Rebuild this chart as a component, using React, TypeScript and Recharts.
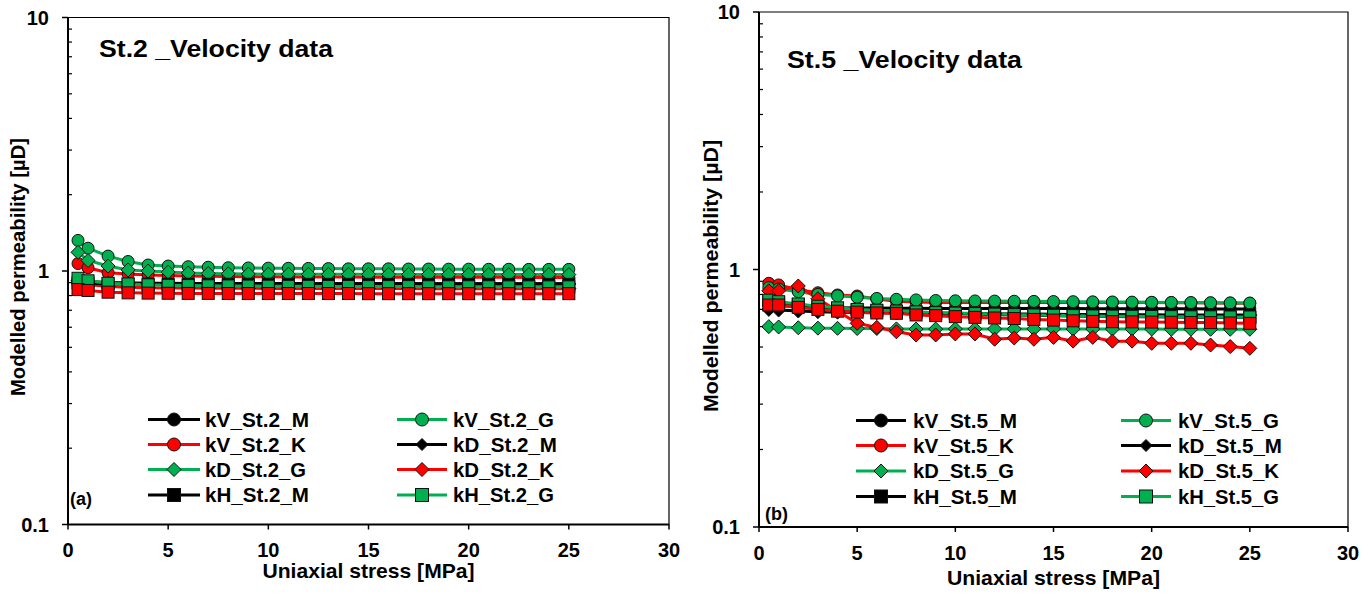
import React from 'react';
import { LineChart, Line, XAxis, YAxis, ReferenceArea, Legend } from 'recharts';

// ---------- data ----------
const stressMPa = [0.5, 1, 2, 3, 4, 5, 6, 7, 8, 9, 10, 11, 12, 13, 14, 15, 16, 17, 18, 19, 20, 21, 22, 23, 24, 25];
const xTicks = [0, 5, 10, 15, 20, 25, 30];
const yMajorTicks = [0.1, 1, 10];
const yTicks = [0.1, 0.2, 0.3, 0.4, 0.5, 0.6, 0.7, 0.8, 0.9, 1, 2, 3, 4, 5, 6, 7, 8, 9, 10];

// St.2
const kV_St2_M = [0.925, 0.91, 0.9, 0.897, 0.895, 0.894, 0.893, 0.893, 0.892, 0.892, 0.892, 0.892, 0.891, 0.891, 0.891, 0.891, 0.891, 0.891, 0.891, 0.89, 0.89, 0.89, 0.89, 0.89, 0.89, 0.89];
const kV_St2_G = [1.32, 1.23, 1.145, 1.09, 1.056, 1.046, 1.04, 1.035, 1.03, 1.028, 1.026, 1.025, 1.024, 1.022, 1.02, 1.02, 1.02, 1.018, 1.018, 1.017, 1.017, 1.016, 1.016, 1.015, 1.015, 1.015];
const kV_St2_K = [1.07, 1.03, 0.985, 0.973, 0.965, 0.96, 0.956, 0.953, 0.951, 0.95, 0.949, 0.948, 0.947, 0.946, 0.946, 0.945, 0.945, 0.945, 0.944, 0.944, 0.944, 0.944, 0.944, 0.943, 0.943, 0.943];
const kD_St2_M = [0.915, 0.905, 0.897, 0.894, 0.893, 0.892, 0.891, 0.891, 0.891, 0.89, 0.89, 0.89, 0.89, 0.89, 0.89, 0.89, 0.89, 0.89, 0.889, 0.889, 0.889, 0.889, 0.889, 0.889, 0.889, 0.889];
const kD_St2_G = [1.185, 1.1, 1.046, 1.01, 1.0, 0.99, 0.982, 0.978, 0.975, 0.973, 0.972, 0.971, 0.97, 0.97, 0.97, 0.97, 0.97, 0.969, 0.969, 0.969, 0.969, 0.969, 0.968, 0.968, 0.968, 0.968];
const kD_St2_K = [0.9, 0.885, 0.868, 0.862, 0.859, 0.857, 0.856, 0.855, 0.855, 0.854, 0.854, 0.854, 0.853, 0.853, 0.853, 0.853, 0.853, 0.853, 0.852, 0.852, 0.852, 0.852, 0.852, 0.852, 0.852, 0.852];
const kH_St2_M = [0.9, 0.895, 0.89, 0.888, 0.888, 0.887, 0.887, 0.887, 0.887, 0.887, 0.887, 0.886, 0.886, 0.886, 0.886, 0.886, 0.886, 0.886, 0.886, 0.886, 0.886, 0.886, 0.886, 0.886, 0.886, 0.886];
const kH_St2_G = [0.936, 0.915, 0.895, 0.889, 0.882, 0.878, 0.876, 0.874, 0.873, 0.872, 0.871, 0.87, 0.87, 0.869, 0.869, 0.868, 0.868, 0.868, 0.867, 0.867, 0.867, 0.867, 0.866, 0.866, 0.866, 0.866];
const kH_St2_K = [0.845, 0.838, 0.825, 0.82, 0.818, 0.817, 0.816, 0.816, 0.815, 0.815, 0.815, 0.815, 0.815, 0.815, 0.815, 0.814, 0.814, 0.814, 0.814, 0.814, 0.814, 0.814, 0.814, 0.814, 0.814, 0.814];

// St.5
const kV_St5_M = [0.73, 0.724, 0.717, 0.713, 0.711, 0.709, 0.708, 0.707, 0.707, 0.706, 0.706, 0.706, 0.705, 0.705, 0.705, 0.705, 0.705, 0.704, 0.704, 0.704, 0.704, 0.704, 0.704, 0.703, 0.703, 0.703];
const kV_St5_G = [0.85, 0.84, 0.82, 0.8, 0.79, 0.78, 0.772, 0.766, 0.762, 0.758, 0.756, 0.755, 0.754, 0.753, 0.752, 0.751, 0.75, 0.749, 0.748, 0.747, 0.746, 0.745, 0.744, 0.743, 0.742, 0.741];
const kV_St5_K = [0.884, 0.871, 0.835, 0.812, 0.796, 0.789, 0.768, 0.753, 0.748, 0.745, 0.745, 0.745, 0.745, 0.745, 0.745, 0.745, 0.745, 0.745, 0.745, 0.744, 0.744, 0.743, 0.742, 0.741, 0.74, 0.739];
const kD_St5_M = [0.7, 0.696, 0.69, 0.686, 0.683, 0.681, 0.679, 0.678, 0.677, 0.676, 0.675, 0.674, 0.673, 0.672, 0.671, 0.67, 0.669, 0.668, 0.668, 0.667, 0.667, 0.666, 0.666, 0.665, 0.665, 0.665];
const kD_St5_G = [0.6, 0.598, 0.594, 0.592, 0.591, 0.59, 0.59, 0.588, 0.587, 0.587, 0.588, 0.588, 0.588, 0.588, 0.588, 0.588, 0.587, 0.587, 0.587, 0.587, 0.587, 0.586, 0.586, 0.586, 0.586, 0.586];
const kD_St5_K = [0.827, 0.827, 0.863, 0.77, 0.69, 0.618, 0.596, 0.573, 0.557, 0.557, 0.562, 0.562, 0.536, 0.542, 0.536, 0.545, 0.527, 0.545, 0.527, 0.527, 0.517, 0.517, 0.517, 0.509, 0.502, 0.494];
const kH_St5_M = [0.755, 0.745, 0.73, 0.716, 0.706, 0.697, 0.692, 0.687, 0.682, 0.678, 0.675, 0.672, 0.669, 0.666, 0.664, 0.662, 0.66, 0.658, 0.657, 0.656, 0.655, 0.654, 0.653, 0.653, 0.652, 0.652];
const kH_St5_G = [0.76, 0.75, 0.735, 0.72, 0.71, 0.7, 0.695, 0.69, 0.685, 0.68, 0.677, 0.674, 0.671, 0.668, 0.666, 0.664, 0.662, 0.66, 0.659, 0.658, 0.657, 0.656, 0.655, 0.655, 0.654, 0.654];
const kH_St5_K = [0.728, 0.728, 0.713, 0.7, 0.689, 0.683, 0.678, 0.676, 0.666, 0.662, 0.656, 0.652, 0.648, 0.645, 0.64, 0.636, 0.632, 0.629, 0.627, 0.626, 0.625, 0.624, 0.623, 0.622, 0.62, 0.618];

// ---------- styling ----------
const FONT = '"Liberation Sans", Arial, Helvetica, sans-serif';
const BLACK = '#000000';
const GREEN = '#00B050';
const RED = '#FF0000';

type Shape = 'circle' | 'diamond' | 'square';
type SeriesDef = { key: string; label: string; color: string; shape: Shape; values: number[]; inLegend: boolean };

const st2Series: SeriesDef[] = [
  { key: 'kV_M', label: 'kV_St.2_M', color: BLACK, shape: 'circle', values: kV_St2_M, inLegend: true },
  { key: 'kV_G', label: 'kV_St.2_G', color: GREEN, shape: 'circle', values: kV_St2_G, inLegend: true },
  { key: 'kV_K', label: 'kV_St.2_K', color: RED, shape: 'circle', values: kV_St2_K, inLegend: true },
  { key: 'kD_M', label: 'kD_St.2_M', color: BLACK, shape: 'diamond', values: kD_St2_M, inLegend: true },
  { key: 'kD_G', label: 'kD_St.2_G', color: GREEN, shape: 'diamond', values: kD_St2_G, inLegend: true },
  { key: 'kD_K', label: 'kD_St.2_K', color: RED, shape: 'diamond', values: kD_St2_K, inLegend: true },
  { key: 'kH_M', label: 'kH_St.2_M', color: BLACK, shape: 'square', values: kH_St2_M, inLegend: true },
  { key: 'kH_G', label: 'kH_St.2_G', color: GREEN, shape: 'square', values: kH_St2_G, inLegend: true },
  { key: 'kH_K', label: 'kH_St.2_K', color: RED, shape: 'square', values: kH_St2_K, inLegend: false },
];

// drawing order for St.5: red circles lie beneath the green ones
const st5Series: SeriesDef[] = [
  { key: 'kV_M', label: 'kV_St.5_M', color: BLACK, shape: 'circle', values: kV_St5_M, inLegend: true },
  { key: 'kV_K', label: 'kV_St.5_K', color: RED, shape: 'circle', values: kV_St5_K, inLegend: true },
  { key: 'kV_G', label: 'kV_St.5_G', color: GREEN, shape: 'circle', values: kV_St5_G, inLegend: true },
  { key: 'kD_M', label: 'kD_St.5_M', color: BLACK, shape: 'diamond', values: kD_St5_M, inLegend: true },
  { key: 'kD_G', label: 'kD_St.5_G', color: GREEN, shape: 'diamond', values: kD_St5_G, inLegend: true },
  { key: 'kD_K', label: 'kD_St.5_K', color: RED, shape: 'diamond', values: kD_St5_K, inLegend: true },
  { key: 'kH_M', label: 'kH_St.5_M', color: BLACK, shape: 'square', values: kH_St5_M, inLegend: true },
  { key: 'kH_G', label: 'kH_St.5_G', color: GREEN, shape: 'square', values: kH_St5_G, inLegend: true },
  { key: 'kH_K', label: 'kH_St.5_K', color: RED, shape: 'square', values: kH_St5_K, inLegend: false },
];

// legend grid order (row-wise, two columns)
const st2LegendOrder = ['kV_M', 'kV_G', 'kV_K', 'kD_M', 'kD_G', 'kD_K', 'kH_M', 'kH_G'];
const st5LegendOrder = ['kV_M', 'kV_G', 'kV_K', 'kD_M', 'kD_G', 'kD_K', 'kH_M', 'kH_G'];

function buildRows(series: SeriesDef[]) {
  return stressMPa.map((x, i) => {
    const row: Record<string, number> = { x };
    series.forEach((s) => {
      row[s.key] = s.values[i];
    });
    return row;
  });
}

function MarkerShape({ shape, cx, cy, fill, size }: { shape: Shape; cx: number; cy: number; fill: string; size: number }) {
  if (shape === 'circle') {
    return <circle cx={cx} cy={cy} r={size} fill={fill} stroke="#111" strokeWidth={1} />;
  }
  if (shape === 'diamond') {
    const d = size + 1;
    return (
      <path
        d={`M${cx},${cy - d}L${cx + d},${cy}L${cx},${cy + d}L${cx - d},${cy}Z`}
        fill={fill}
        stroke="#111"
        strokeWidth={1}
      />
    );
  }
  return <rect x={cx - size} y={cy - size} width={size * 2} height={size * 2} fill={fill} stroke="#111" strokeWidth={1} />;
}

type PanelCfg = {
  pageLeft: number;
  plotLeft: number;
  plotRight: number;
  plotTop: number;
  plotBottom: number;
  title: string;
  titleX: number;
  titleY: number;
  titleLen: number;
  panelTag: string;
  tagX: number;
  tagY: number;
  yTitleX: number;
  yTitleY: number;
  yTitleLen: number;
  xTitleY: number;
  xTitleLen: number;
  xTickDy: number;
  legendCols: { l0: number; l1: number; m: number; t: number }[];
  legendRows: number[];
  legendOrder: string[];
};

const W = 686;
const H = 594;

const st2Cfg: PanelCfg = {
  pageLeft: 0,
  plotLeft: 68,
  plotRight: 669,
  plotTop: 17.5,
  plotBottom: 524.5,
  title: 'St.2 _Velocity data',
  titleX: 99,
  titleY: 57,
  titleLen: 234,
  panelTag: '(a)',
  tagX: 70,
  tagY: 505,
  yTitleX: 25,
  yTitleY: 267,
  yTitleLen: 258,
  xTitleY: 578,
  xTitleLen: 212,
  xTickDy: 32,
  legendCols: [
    { l0: 148, l1: 200, m: 174, t: 205 },
    { l0: 397, l1: 447, m: 422, t: 453 },
  ],
  legendRows: [419.5, 444.5, 469.5, 495],
  legendOrder: st2LegendOrder,
};

const st5Cfg: PanelCfg = {
  pageLeft: 686,
  plotLeft: 73,
  plotRight: 662,
  plotTop: 12,
  plotBottom: 527,
  title: 'St.5 _Velocity data',
  titleX: 101,
  titleY: 68,
  titleLen: 235,
  panelTag: '(b)',
  tagX: 79,
  tagY: 520,
  yTitleX: 32,
  yTitleY: 276,
  yTitleLen: 272,
  xTitleY: 585,
  xTitleLen: 213,
  xTickDy: 33,
  legendCols: [
    { l0: 170, l1: 220, m: 195, t: 227 },
    { l0: 435, l1: 485, m: 460, t: 492 },
  ],
  legendRows: [420.5, 445.5, 471, 496.5],
  legendOrder: st5LegendOrder,
};

function Panel({ series, cfg }: { series: SeriesDef[]; cfg: PanelCfg }) {
  const rows = buildRows(series);
  const byKey: Record<string, SeriesDef> = {};
  series.forEach((s) => (byKey[s.key] = s));

  const yTick = (props: any) => {
    const { y, payload } = props;
    const v = payload.value;
    const ax = cfg.plotLeft;
    const major = yMajorTicks.some((m) => Math.abs(m - v) < 1e-9);
    if (major) {
      return (
        <g>
          <line x1={ax - 6} x2={ax} y1={y} y2={y} stroke="#000" strokeWidth={1.5} />
          <text x={ax - 19} y={y + 7} textAnchor="end" fontFamily={FONT} fontWeight="bold" fontSize={20} fill="#000">
            {String(v)}
          </text>
        </g>
      );
    }
    return <line x1={ax} x2={ax + 4} y1={y} y2={y} stroke="#000" strokeWidth={1.2} />;
  };

  const xTick = (props: any) => {
    const { x, payload } = props;
    const ay = cfg.plotBottom;
    return (
      <g>
        <line x1={x} x2={x} y1={ay} y2={ay + 5} stroke="#000" strokeWidth={1.5} />
        <text x={x} y={ay + cfg.xTickDy} textAnchor="middle" fontFamily={FONT} fontWeight="bold" fontSize={20} fill="#000">
          {String(payload.value)}
        </text>
      </g>
    );
  };

  const legendContent = () => (
    <svg width={W} height={H} style={{ position: 'absolute', left: 0, top: 0, overflow: 'visible' }}>
      {cfg.legendOrder.map((k, i) => {
        const s = byKey[k];
        const col = cfg.legendCols[i % 2];
        const cy = cfg.legendRows[Math.floor(i / 2)];
        const isBlack = s.color === BLACK;
        const size = s.shape === 'square' ? 6.5 : s.shape === 'diamond' ? (isBlack ? 5 : 6) : 6.5;
        return (
          <g key={k}>
            <line x1={col.l0} x2={col.l1} y1={cy} y2={cy} stroke={s.color} strokeWidth={3} />
            <MarkerShape shape={s.shape} cx={col.m} cy={cy} fill={s.color} size={size} />
            <text
              x={col.t}
              y={cy + 7.3}
              fontFamily={FONT}
              fontWeight="bold"
              fontSize={20.5}
              textLength={s.label.endsWith('M') ? 104 : 101}
              lengthAdjust="spacingAndGlyphs"
              fill="#000"
            >
              {s.label}
            </text>
          </g>
        );
      })}
    </svg>
  );

  const plotCx = (cfg.plotLeft + cfg.plotRight) / 2;

  return (
    <div style={{ position: 'absolute', left: cfg.pageLeft, top: 0, width: W, height: H }}>
      <LineChart
        width={W}
        height={H}
        data={rows}
        margin={{ top: cfg.plotTop, right: W - cfg.plotRight, left: 0, bottom: H - cfg.plotBottom - 40 }}
      >
        <XAxis
          dataKey="x"
          type="number"
          domain={[0, 30]}
          ticks={xTicks}
          interval={0}
          height={40}
          tickSize={0}
          tickMargin={0}
          tickLine={false}
          tick={xTick}
          axisLine={{ stroke: '#000', strokeWidth: 2 }}
          allowDataOverflow
        />
        <YAxis
          type="number"
          scale="log"
          domain={[0.1, 10]}
          ticks={yTicks}
          interval={0}
          width={cfg.plotLeft}
          tickSize={0}
          tickMargin={0}
          tickLine={false}
          tick={yTick}
          axisLine={{ stroke: '#000', strokeWidth: 2 }}
          allowDataOverflow
        />
        <ReferenceArea x1={0} x2={30} y1={0.1} y2={10} fill="none" stroke="#000" strokeWidth={1.2} />
        {series.map((s) => (
          <Line
            key={s.key}
            dataKey={s.key}
            name={s.label}
            type="linear"
            stroke={s.color}
            strokeWidth={3}
            isAnimationActive={false}
            legendType={s.inLegend ? 'line' : 'none'}
            dot={(p: any) => (
              <MarkerShape key={`${s.key}-${p.index}`} shape={s.shape} cx={p.cx} cy={p.cy} fill={s.color} size={6} />
            )}
            activeDot={false}
          />
        ))}
        <Legend
          layout="horizontal"
          verticalAlign="middle"
          align="center"
          content={legendContent}
          wrapperStyle={{ position: 'absolute', left: 0, top: 0, width: W, height: H, margin: 0, padding: 0, pointerEvents: 'none' }}
        />
      </LineChart>
      <svg width={W} height={H} style={{ position: 'absolute', left: 0, top: 0, pointerEvents: 'none' }}>
        <text
          x={cfg.titleX}
          y={cfg.titleY}
          fontFamily={FONT}
          fontWeight="bold"
          fontSize={23}
          textLength={cfg.titleLen}
          lengthAdjust="spacingAndGlyphs"
          fill="#000"
        >
          {cfg.title}
        </text>
        <text x={cfg.tagX} y={cfg.tagY} fontFamily={FONT} fontWeight="bold" fontSize={18} fill="#000">
          {cfg.panelTag}
        </text>
        <text
          x={plotCx}
          y={cfg.xTitleY}
          textAnchor="middle"
          fontFamily={FONT}
          fontWeight="bold"
          fontSize={21}
          textLength={cfg.xTitleLen}
          lengthAdjust="spacingAndGlyphs"
          fill="#000"
        >
          Uniaxial stress [MPa]
        </text>
        <text
          x={cfg.yTitleX}
          y={cfg.yTitleY}
          textAnchor="middle"
          transform={`rotate(-90 ${cfg.yTitleX} ${cfg.yTitleY})`}
          fontFamily={FONT}
          fontWeight="bold"
          fontSize={20}
          textLength={cfg.yTitleLen}
          lengthAdjust="spacingAndGlyphs"
          fill="#000"
        >
          Modelled permeability [µD]
        </text>
      </svg>
    </div>
  );
}

export default function App() {
  return (
    <div style={{ position: 'absolute', left: 0, top: 0, width: 1372, height: 594, background: '#fff', overflow: 'hidden' }}>
      <Panel series={st2Series} cfg={st2Cfg} />
      <Panel series={st5Series} cfg={st5Cfg} />
    </div>
  );
}
